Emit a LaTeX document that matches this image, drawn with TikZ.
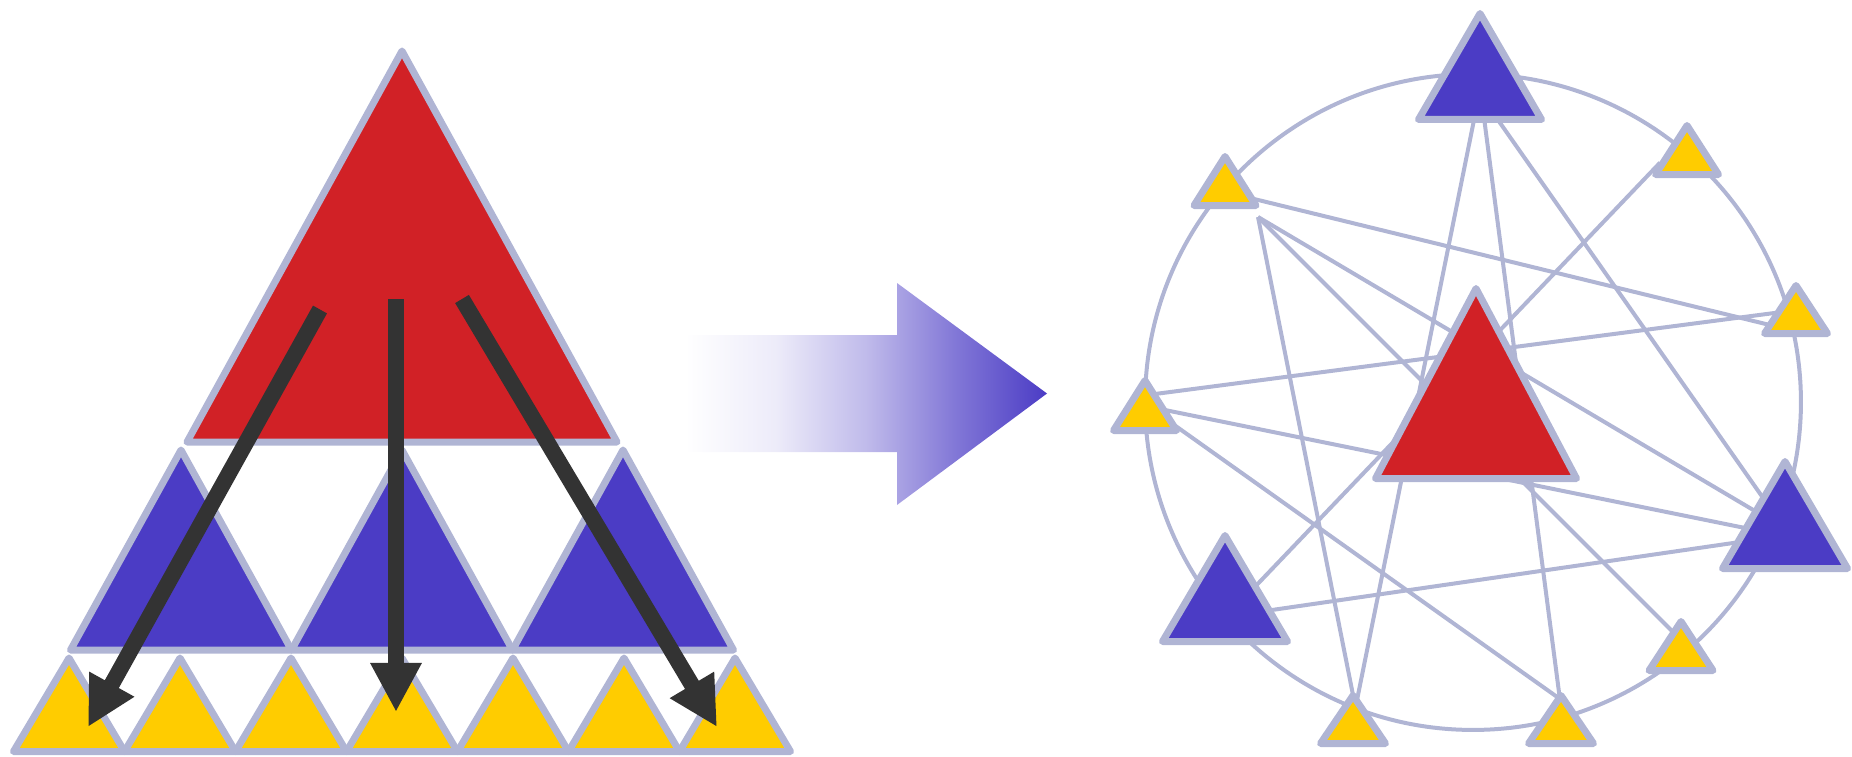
\documentclass[tikz,border=0pt]{standalone}
\usetikzlibrary{arrows.meta}
\definecolor{lgray}{RGB}{176,181,212}
\definecolor{tblue}{RGB}{75,60,197}
\definecolor{tred}{RGB}{209,33,38}
\definecolor{tyellow}{RGB}{255,204,0}
\definecolor{tdark}{RGB}{51,51,51}
\colorlet{gA}{tblue!10!white}
\colorlet{gB}{tblue!35!white}
\colorlet{gC}{tblue!70!white}
\pgfdeclarehorizontalshading{arrshade}{100bp}{color(0bp)=(white); color(25bp)=(white);
  color(37.5bp)=(gA); color(50bp)=(gB); color(62.5bp)=(gC); color(75bp)=(tblue); color(100bp)=(tblue)}
\newdimen\pxu
\pxu=0.02cm
% name, centre x, apex y, base y, half width, fill colour
\newcommand\mytri[6]{%
  \coordinate (#1) at (#2,{(#3+2*#4)/3});
  \draw[tri,fill=#6] (#2,#3) -- ({#2+#5},#4) -- ({#2-#5},#4) -- cycle;}
\tikzset{
  tri/.style={draw=lgray,line width=7\pxu,line join=round},
  edge/.style={draw=lgray,line width=4\pxu},
  darrow/.style={draw=tdark,line width=16\pxu,line cap=butt,
     -{Triangle[length=27.9pt,width=27.3pt]}},
}
\begin{document}
\begin{tikzpicture}[x=0.02cm,y=-0.02cm]
\useasboundingbox (0,0) rectangle (1852,757);
% ---------- left hierarchy ----------
\mytri{lred}{402}{51}{442}{215}{tred}
\mytri{lb1}{181}{450}{650}{110.5}{tblue}
\mytri{lb2}{402}{450}{650}{110.5}{tblue}
\mytri{lb3}{623}{450}{650}{110.5}{tblue}
\mytri{ly1}{69}{658}{751.5}{55.5}{tyellow}
\mytri{ly2}{180}{658}{751.5}{55.5}{tyellow}
\mytri{ly3}{291}{658}{751.5}{55.5}{tyellow}
\mytri{ly4}{402}{658}{751.5}{55.5}{tyellow}
\mytri{ly5}{513}{658}{751.5}{55.5}{tyellow}
\mytri{ly6}{624}{658}{751.5}{55.5}{tyellow}
\mytri{ly7}{735}{658}{751.5}{55.5}{tyellow}
\coordinate (a1s) at (320,309.5); \coordinate (a1e) at (88,727);
\coordinate (a2s) at (396,299);   \coordinate (a2e) at (396,712);
\coordinate (a3s) at (462,299);   \coordinate (a3e) at (717,727);
\draw[darrow] (a1s) -- (a1e);
\draw[darrow] (a2s) -- (a2e);
\draw[darrow] (a3s) -- (a3e);
% ---------- gradient arrow ----------
\shade[shading=arrshade] (685,335) -- (897,335) -- (897,283)
  -- (1047,393.5) -- (897,505) -- (897,452) -- (685,452) -- cycle;
% ---------- graph ----------
\coordinate (cc) at (1473,402);
\draw[edge] (cc) circle [radius=6.56cm];
% edge ports
\coordinate (pt1a) at (1476,110); \coordinate (pt1b) at (1483,110); \coordinate (pt1c) at (1491,110);
\coordinate (ptl) at (1258,217);  \coordinate (ptlc) at (1250,198);
\coordinate (ptr) at (1660,162.7);
\coordinate (pyl1) at (1155,394); \coordinate (pyl2) at (1160,409); \coordinate (pyl3) at (1170,422);
\coordinate (pbl) at (1265,611);  \coordinate (pbl2) at (1250,592);
\coordinate (pyb1a) at (1357,700); \coordinate (pyb1b) at (1354,700);
\coordinate (pyb2a) at (1560,700); \coordinate (pyb2b) at (1560,699);
\coordinate (pbra) at (1768,505); \coordinate (pbrb) at (1760,514); \coordinate (pbrc) at (1750,529); \coordinate (pbrd) at (1740,542);
\coordinate (pyr1) at (1778,327); \coordinate (pyr2) at (1782,312);
\coordinate (pybr) at (1676,635);
\draw[edge] (pt1a) -- (pyb1a);
\draw[edge] (pt1b) -- (pyb2a);
\draw[edge] (pt1c) -- (pbra);
\draw[edge] (ptlc) -- (pyr1);
\draw[edge] (ptl) -- (pbrb);
\draw[edge] (ptl) -- (pybr);
\draw[edge] (ptl) -- (pyb1b);
\draw[edge] (ptr) -- (pbl2);
\draw[edge] (pyl1) -- (pyr2);
\draw[edge] (pyl2) -- (pbrc);
\draw[edge] (pyl3) -- (pyb2b);
\draw[edge] (pbl) -- (pbrd);
% nodes
\mytri{n1}{1480}{13.5}{119.5}{61.5}{tblue}
\mytri{n2}{1687}{125.5}{174.5}{31.5}{tyellow}
\mytri{n3}{1796}{285.5}{333.5}{31.5}{tyellow}
\mytri{n4}{1785}{461.5}{568.5}{62.5}{tblue}
\mytri{n5}{1681}{621.5}{670.5}{32}{tyellow}
\mytri{n6}{1561}{695.5}{743.5}{32.5}{tyellow}
\mytri{n7}{1353}{695.5}{743.5}{32.5}{tyellow}
\mytri{n8}{1225}{535.5}{641.5}{62.5}{tblue}
\mytri{n9}{1145}{380.5}{430.5}{31.5}{tyellow}
\mytri{n10}{1225}{156.5}{205.5}{31}{tyellow}
\mytri{n11}{1476}{288.5}{478.5}{100.5}{tred}
\end{tikzpicture}
\end{document}
